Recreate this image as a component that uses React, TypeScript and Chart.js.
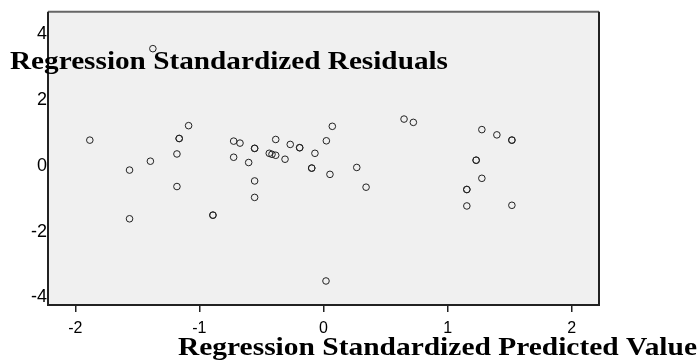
import React, { useEffect, useRef } from "react";
import { Chart, registerables } from "chart.js";

Chart.register(...registerables);

const predictedValues: number[] = [
  -1.375, -1.883, -1.563, -1.563, -1.395, -1.181, -1.163, -1.163, -1.087, -1.181,
  -0.891, -0.891, -0.724, -0.673, -0.724, -0.603, -0.555, -0.555, -0.555, -0.555,
  -0.437, -0.415, -0.385, -0.385, -0.31, -0.268, -0.192, -0.192, -0.069, -0.095,
  -0.095, 0.052, 0.023, 0.071, 0.02, 0.268, 0.343, 0.649, 0.724, 1.276,
  1.397, 1.518, 1.518, 1.23, 1.23, 1.276, 1.155, 1.155, 1.155, 1.518,
];
const residualValues: number[] = [
  3.56, 0.78, -0.13, -1.61, 0.14, 0.36, 0.83, 0.83, 1.22, -0.63,
  -1.5, -1.5, 0.75, 0.69, 0.26, 0.1, 0.53, 0.53, -0.46, -0.96,
  0.38, 0.35, 0.32, 0.8, 0.2, 0.65, 0.55, 0.55, 0.38, -0.07,
  -0.07, -0.26, 0.76, 1.2, -3.5, -0.05, -0.65, 1.42, 1.32, 1.1,
  0.94, 0.78, 0.78, 0.17, 0.17, -0.38, -0.72, -0.72, -1.22, -1.2,
];
const xTicks: number[] = [-2, -1, 0, 1, 2];
const yTicks: number[] = [-4, -2, 0, 2, 4];
const xTitle = "Regression Standardized Predicted Value";
const yTitle = "Regression Standardized Residuals";

export default function App() {
  const ref = useRef<HTMLCanvasElement | null>(null);

  useEffect(() => {
    if (!ref.current) return;
    const points = predictedValues.map((x, i) => ({ x, y: residualValues[i] }));

    const framePlugin = {
      id: "frame",
      beforeDatasetsDraw(chart: any) {
        const { ctx, chartArea: a } = chart;
        ctx.save();
        ctx.fillStyle = "#f0f0f0";
        ctx.fillRect(a.left, a.top, a.right - a.left, a.bottom - a.top);
        ctx.lineWidth = 2;
        ctx.strokeStyle = "#666";
        ctx.beginPath();
        ctx.moveTo(a.left, a.top);
        ctx.lineTo(a.right, a.top);
        ctx.stroke();
        ctx.strokeStyle = "#222";
        ctx.beginPath();
        ctx.moveTo(a.right, a.top);
        ctx.lineTo(a.right, a.bottom);
        ctx.lineTo(a.left, a.bottom);
        ctx.lineTo(a.left, a.top);
        ctx.stroke();
        ctx.restore();
      },
      afterDraw(chart: any) {
        const { ctx } = chart;
        const draw = (text: string, left: number, right: number, baseline: number) => {
          ctx.save();
          ctx.font = 'bold 26px "Liberation Serif", "Times New Roman", serif';
          ctx.fillStyle = "#000";
          ctx.textBaseline = "alphabetic";
          ctx.textAlign = "left";
          const w = ctx.measureText(text).width;
          ctx.translate(left, baseline);
          ctx.scale((right - left) / w, 1);
          ctx.fillText(text, 0, 0);
          ctx.restore();
        };
        draw(yTitle, 10, 448, 69);
        draw(xTitle, 178, 697, 355);
      },
    };

    const chart = new Chart(ref.current, {
      type: "scatter",
      data: {
        datasets: [
          {
            data: points,
            pointRadius: 3.3,
            pointBorderWidth: 1,
            pointBorderColor: "#222",
            pointBackgroundColor: "rgba(0,0,0,0)",
            showLine: false,
          },
        ],
      },
      options: {
        animation: false,
        responsive: false,
        events: [],
        layout: { padding: { left: 0, right: 101, top: 9, bottom: 0 } },
        plugins: { legend: { display: false }, tooltip: { enabled: false } },
        scales: {
          x: {
            type: "linear",
            min: -2.22,
            max: 2.22,
            afterBuildTicks: (axis: any) => {
              axis.ticks = xTicks.map((v) => ({ value: v }));
            },
            afterFit: (scale: any) => {
              scale.height = 58;
            },
            border: { display: false },
            grid: {
              drawOnChartArea: false,
              drawTicks: true,
              tickLength: 7,
              tickColor: "#222",
              lineWidth: 1.5,
            },
            ticks: {
              color: "#000",
              padding: 7,
              maxRotation: 0,
              font: { family: '"Liberation Sans", Arial, sans-serif', size: 16 },
            },
          },
          y: {
            type: "linear",
            min: -4.23,
            max: 4.68,
            afterBuildTicks: (axis: any) => {
              axis.ticks = yTicks.map((v) => ({ value: v }));
            },
            afterFit: (scale: any) => {
              scale.width = 48;
            },
            border: { display: false },
            grid: { drawOnChartArea: false, drawTicks: false },
            ticks: {
              color: "#000",
              padding: 1,
              font: { family: '"Liberation Sans", Arial, sans-serif', size: 18 },
            },
          },
        },
      },
      plugins: [framePlugin],
    });
    return () => chart.destroy();
  }, []);

  return (
    <div style={{ position: "absolute", left: 0, top: 0, width: 700, height: 363, background: "#fff" }}>
      <canvas ref={ref} width={700} height={363} style={{ display: "block" }} />
    </div>
  );
}
